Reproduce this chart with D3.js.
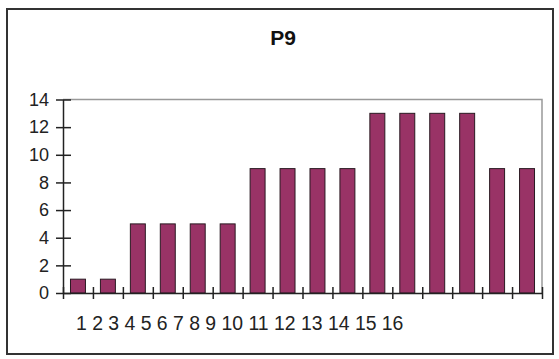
<!DOCTYPE html>
<html><head><meta charset="utf-8">
<script src="https://cdn.jsdelivr.net/npm/d3@7"></script>
<style>body{margin:0;background:#fff}svg{display:block}</style>
</head><body>
<script>
const title = "P9";
const categories = ["1","2","3","4","5","6","7","8","9","10","11","12","13","14","15","16"];
const values = [1,1,5,5,5,5,9,9,9,9,13,13,13,13,9,9];
const yTicks = [0,2,4,6,8,10,12,14];
const xTickLabels = ["1","2","3","4","5","6","7","8","9","10","11","12","13","14","15","16"];

const W = 559, H = 359;
const svg = d3.select("body").append("svg").attr("width", W).attr("height", H);
svg.append("rect").attr("width", W).attr("height", H).attr("fill", "#fff");

// outer frame
svg.append("rect").attr("x", 7).attr("y", 9).attr("width", 546).attr("height", 345)
  .attr("fill", "none").attr("stroke", "#333").attr("stroke-width", 2);

svg.append("text").attr("x", 283).attr("y", 45).attr("text-anchor", "middle")
  .attr("font-family", "Liberation Sans, Arial, sans-serif").attr("font-weight", "bold")
  .attr("font-size", 21).attr("fill", "#111").text(title);

const L = 63, R = 542, T = 99.5, B = 293;
const x = d3.scaleBand().domain(categories).range([L, R]).paddingInner(0.5).paddingOuter(0.25);
const xl = d3.scaleLinear().domain([0, categories.length]).range([L, R]);
const y = d3.scaleLinear().domain([0, 14]).range([B, T]);

// plot area gray border (top, right)
svg.append("path").attr("d", `M${L},${T}H${R}V${B}`).attr("fill", "none")
  .attr("stroke", "#999").attr("stroke-width", 1.5);

// bars
svg.append("g").selectAll("rect").data(values).join("rect")
  .attr("x", (d, i) => x(categories[i]))
  .attr("width", x.bandwidth())
  .attr("y", d => y(d))
  .attr("height", d => y(0) - y(d))
  .attr("fill", "#993366").attr("stroke", "#2a1a22").attr("stroke-width", 1);

// y axis
const gy = svg.append("g").attr("transform", `translate(${L},0)`)
  .call(d3.axisLeft(y).tickValues(yTicks).tickSize(0).tickPadding(14).tickFormat(d3.format("d")));
gy.select(".domain").attr("stroke", "#222").attr("stroke-width", 1.5);
gy.selectAll(".tick line").attr("x1", -7).attr("x2", 8).attr("stroke", "#222").attr("stroke-width", 1.5);
gy.selectAll(".tick text").attr("font-family", "Liberation Sans, Arial, sans-serif")
  .attr("font-size", 18).attr("fill", "#222");

// x axis (ticks at band boundaries)
const gx = svg.append("g").attr("transform", `translate(0,${B})`)
  .call(d3.axisBottom(xl).tickValues(d3.range(0, categories.length + 1)).tickSize(0).tickFormat(""));
gx.select(".domain").attr("stroke", "#222").attr("stroke-width", 1.5);
gx.selectAll(".tick line").attr("y1", -6).attr("y2", 6).attr("stroke", "#222").attr("stroke-width", 1.5);

// x tick labels as one run of text (as in the reference)
svg.append("text").attr("x", 76).attr("y", 330)
  .attr("font-family", "Liberation Sans, Arial, sans-serif").attr("font-size", 19.4)
  .attr("fill", "#222").attr("xml:space", "preserve")
  .text(xTickLabels.join(" "));
</script>
</body></html>
